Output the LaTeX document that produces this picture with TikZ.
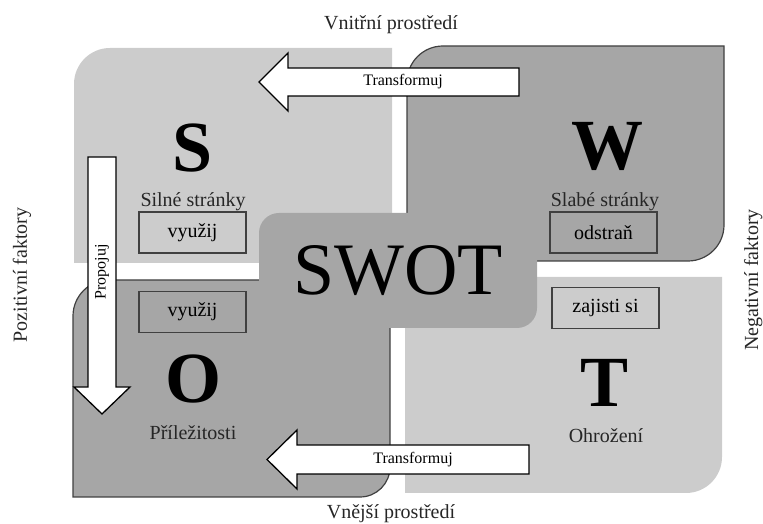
\documentclass[tikz,border=0pt]{standalone}
\usepackage{fontspec}
\setmainfont{Liberation Serif}

\definecolor{svetla}{RGB}{204,204,204}
\definecolor{tmava}{RGB}{166,166,166}
\definecolor{okraj}{RGB}{64,64,64}

\begin{document}
\begin{tikzpicture}[x=1pt,y=1pt,
	ukol/.style={draw=okraj,line width=1.2pt,minimum width=107pt,minimum height=41pt,inner sep=0pt,font=\fontsize{20}{24}\selectfont},
	pismeno/.style={anchor=base,font=\fontsize{72}{80}\selectfont\bfseries},
	popis/.style={anchor=base,text=black!85,font=\fontsize{20}{24}\selectfont},
	sipka/.style={draw=black,fill=white,line width=1.3pt,line join=miter},
	sipkatext/.style={inner sep=0pt,font=\fontsize{16}{18}\selectfont}]
	\useasboundingbox (0,0) rectangle (763,524);
	
	% kvadranty
	\fill[svetla] (74,261) -- (74,440) arc[start angle=180,end angle=90,radius=36] -- (392,476) -- (392,261) -- cycle;
	\draw[okraj,fill=tmava,line width=1.2pt] (407,263) -- (407,442) arc[start angle=180,end angle=90,radius=36] -- (724,478) -- (724,299) arc[start angle=0,end angle=-90,radius=36] -- cycle;
	\fill[svetla] (405,31) -- (405,247) -- (722,247) -- (722,67) arc[start angle=0,end angle=-90,radius=36] -- cycle;
	\draw[okraj,fill=tmava,line width=1.2pt] (73,27) -- (73,208) arc[start angle=180,end angle=90,radius=36] -- (390,244) -- (390,57) arc[start angle=0,end angle=-90,radius=30] -- cycle;
	
	\node[pismeno] (S) at (193,352) {S};
	\node[popis] (Spopis) at (193,317) {Silné stránky};
	\node[ukol] (Sukol) at (192.5,291.5) {využij};
	
	\node[pismeno] (W) at (607,354) {W};
	\node[popis] (Wpopis) at (605,317) {Slabé stránky};
	\node[ukol] (Wukol) at (603.5,291.5) {odstraň};
	
	\node[ukol] (Oukol) at (192.5,212) {využij};
	\node[pismeno] (O) at (193,121) {O};
	\node[popis] (Opopis) at (193,84) {Příležitosti};
	
	\node[ukol] (Tukol) at (605.5,216) {zajisti si};
	\node[pismeno] (T) at (605,117) {T};
	\node[popis] (Tpopis) at (606,81) {Ohrožení};
	
	\node[fill=tmava,rounded corners=20pt,minimum width=278pt,minimum height=115pt,inner sep=0pt,font=\fontsize{74}{80}\selectfont] (swot) at (398,253.5) {SWOT};
	
	% sipky
	\draw[sipka] (519,456) -- (288,456) -- (288,471) -- (259,442) -- (288,413) -- (288,428) -- (519,428) -- cycle;
	\node[sipkatext] (transf1) at (403,442) {Transformuj};
	\draw[sipka] (529,79) -- (297,79) -- (297,94) -- (267,64.5) -- (297,35) -- (297,50) -- (529,50) -- cycle;
	\node[sipkatext] (transf2) at (413,64.5) {Transformuj};
	\draw[sipka] (88,367) -- (116,367) -- (116,137) -- (130,137) -- (102,110) -- (74,137) -- (88,137) -- cycle;
	\node[sipkatext,rotate=90] (propoj) at (102,252) {Propojuj};
	
	% okolni popisy
	\node[popis] (vnitrni) at (391,494) {Vnitřní prostředí};
	\node[popis] (vnejsi) at (391,5.5) {Vnější prostředí};
	\node[popis,rotate=90] (pozit) at (27,249) {Pozitivní faktory};
	\node[popis,rotate=90] (negat) at (758,244) {Negativní faktory};
\end{tikzpicture}
\end{document}
